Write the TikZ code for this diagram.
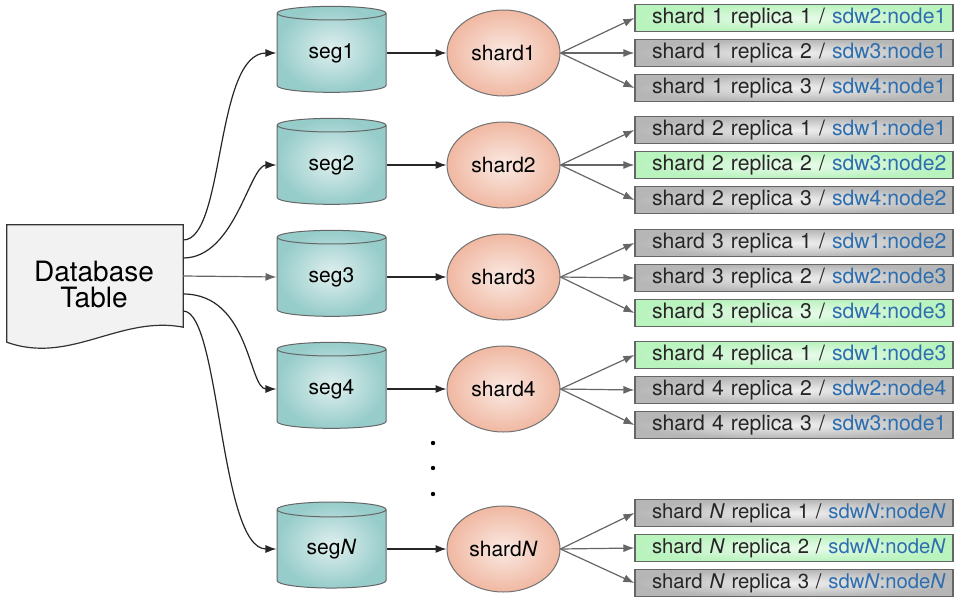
\documentclass[tikz,border=0pt]{standalone}
\usepackage{fontspec}
\setmainfont{TeX Gyre Heros}
\usetikzlibrary{arrows.meta,positioning,calc,shapes.geometric}
\definecolor{segteal}{RGB}{150,204,202}
\definecolor{shardpink}{RGB}{240,184,162}
\definecolor{repgreen}{RGB}{185,243,190}
\definecolor{repgray}{RGB}{182,182,182}
\definecolor{hostblue}{RGB}{45,110,175}
\tikzset{
  seg/.style={cylinder,shape border rotate=90,aspect=0.3,minimum width=109pt,minimum height=86pt,
    inner sep=0pt,draw=black!60,line width=1pt,shading=radial,inner color=segteal!30,outer color=segteal,
    font=\fontsize{21}{24}\selectfont},
  shard/.style={ellipse,minimum width=113pt,minimum height=86pt,inner sep=0pt,draw=black!55,line width=1pt,
    shading=radial,inner color=shardpink!30,outer color=shardpink,font=\fontsize{21}{24}\selectfont},
  replica/.style={rectangle,text width=284pt,inner xsep=17pt,inner ysep=0pt,minimum height=27pt,align=left,
    draw=black!60,line width=1.2pt,text=black!85},
  greenrep/.style={replica,shading=radial,inner color=repgreen!30,outer color=repgreen},
  greyrep/.style={replica,shading=radial,inner color=repgray!20,outer color=repgray},
  link/.style={->,line width=1.2pt,black!85},
  fanout/.style={->,line width=1.2pt,black!60}
}
\begin{document}
\begin{tikzpicture}[x=1pt,y=-1pt,>={Latex[length=11pt,width=8pt]}]
  \useasboundingbox (0,0) rectangle (956,600);
  % the table on the left
  \node[minimum width=176pt,minimum height=102pt,inner sep=0pt] (db) at (95,276) {};
  \coordinate (dbcorner) at ($(db.south west)+(0,15)$);
  \draw[fill=black!5,draw=black!80,line width=1.2pt] (db.north west) -- (db.north east) -- (db.south east)
    .. controls (120,315) and (70,365) .. (dbcorner) -- cycle;
  \node[font=\fontsize{28}{26}\selectfont,align=center] (dbtext) at (94,284) {Database\\Table};
  % segments and shards
  \foreach \i/\t/\y in {1/1/53,2/2/165,3/3/277,4/4/389,N/\textit{N}/549}{
    \node[seg] (seg\i) at (331.5,\y) {seg\t};
    \node[shard] (shard\i) at (503.5,\y) {shard\t};
    \draw[link] (seg\i) -- (shard\i);
  }
  \draw[link] ([yshift=36pt]db.east) .. controls +(42,0) and +(-62,0) .. (seg1.west);
  \draw[link] ([yshift=18pt]db.east) .. controls +(52,0) and +(-27,0) .. (seg2.west);
  \draw[fanout] (db.east) -- (seg3.west);
  \draw[link] ([yshift=-18pt]db.east) .. controls +(67,0) and +(-28,0) .. (seg4.west);
  \draw[link] ([yshift=-35pt]db.east) .. controls +(37,0) and +(-57,0) .. (segN.west);
  \foreach \d in {443,468,494} \fill (433,\d) circle (2.2pt);
  % replicas, one green per shard
  \foreach \s/\t/\y/\p/\f/\a/\b/\c in {
      1/1/53/1/21.2/sdw2:node1/sdw3:node1/sdw4:node1,
      2/2/165/2/21.2/sdw1:node1/sdw3:node2/sdw4:node2,
      3/3/278/3/21.2/sdw1:node2/sdw2:node3/sdw4:node3,
      4/4/390/1/21.2/sdw1:node3/sdw2:node4/sdw3:node1,
      N/\textit{N}/548/2/20.3/sdw\textit{N}:node\textit{N}/sdw\textit{N}:node\textit{N}/sdw\textit{N}:node\textit{N}}{
    \foreach \r/\h in {1/\a,2/\b,3/\c}{
      \ifnum\r=\p\def\repstyle{greenrep}\else\def\repstyle{greyrep}\fi
      \node[\repstyle,font=\fontsize{\f}{24}\selectfont] (rep\s-\r) at (794,{\y+35*(\r-2)})
        {\mbox{shard \t\ replica \r\ / \textcolor{hostblue}{\h}}};
      \draw[fanout] (shard\s.east) -- (rep\s-\r.west);
    }
  }
\end{tikzpicture}
\end{document}
